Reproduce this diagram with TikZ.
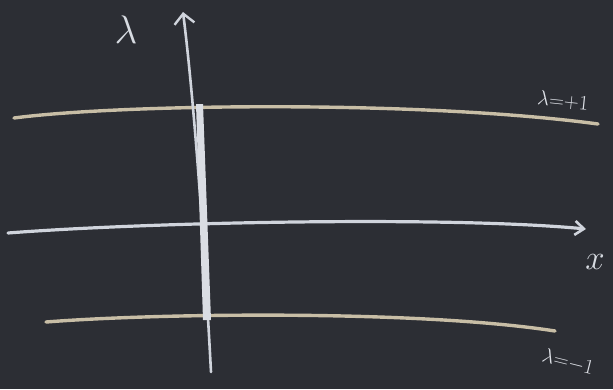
\documentclass[tikz,border=0pt]{standalone}
\usepackage{amsmath,amssymb}
\usepackage{graphicx}
\usepackage{xcolor}
\usepackage{tikz}
\usetikzlibrary{arrows.meta,positioning,calc}
\definecolor{board}{RGB}{44,46,52}
\definecolor{chalktan}{RGB}{200,190,166}
\definecolor{chalkwhite}{RGB}{208,212,220}

\begin{document}
\begin{tikzpicture}[x=1pt,y=-1pt,
        chalk/.style={line width=3.4pt, line cap=round, color=chalktan},
        chalkw/.style={line width=3.2pt, line cap=round, color=chalkwhite},
        scrawl/.style={font=\fontsize{24}{24}\selectfont, color=chalkwhite!85},
        small/.style={font=\fontsize{21}{21}\selectfont, color=chalkwhite!70}]
        \fill[board] (0,0) rectangle (613,389);
        \useasboundingbox (0,0) rectangle (613,389);
        % lines of constant lambda
        \coordinate (tl) at (14,118);
        \coordinate (tr) at (598,124);
        \coordinate (ml) at (8,233);
        \coordinate (mr) at (586,229);
        \coordinate (bl) at (46,322);
        \coordinate (br) at (555,331);
        \draw[chalk] (tl) .. controls (120,104) and (420,100) .. (tr);
        \draw[chalkw, -{Straight Barb[length=9pt,width=14pt,line width=2.6pt]}] (ml) .. controls (150,222) and (450,216) .. (mr);
        \draw[chalk] (bl) .. controls (160,313) and (420,310) .. (br);
        % vertical axis
        \coordinate (ax0) at (211,372);
        \coordinate (ax1) at (183,12);
        \draw[chalkw, line width=2.6pt, -{Straight Barb[length=10pt,width=20pt,line width=2.4pt]}] (ax0) .. controls (204,240) and (194,100) .. (ax1);
        \fill[chalkwhite!80] (196,104) -- (203,104) -- (211,320) -- (203,320) -- cycle;
        % labels
        \node[scrawl] (lam) at (126,30) {\scalebox{1.6}{$\lambda$}};
        \node[small, rotate=-6] (top) at (563,101) {$\lambda{=}{+}1$};
        \node[scrawl] (mid) at (595,262) {\scalebox{1.4}{$x$}};
        \node[small, rotate=-14] (bot) at (568,362) {$\lambda{=}{-}1$};
      \end{tikzpicture}
\end{document}
